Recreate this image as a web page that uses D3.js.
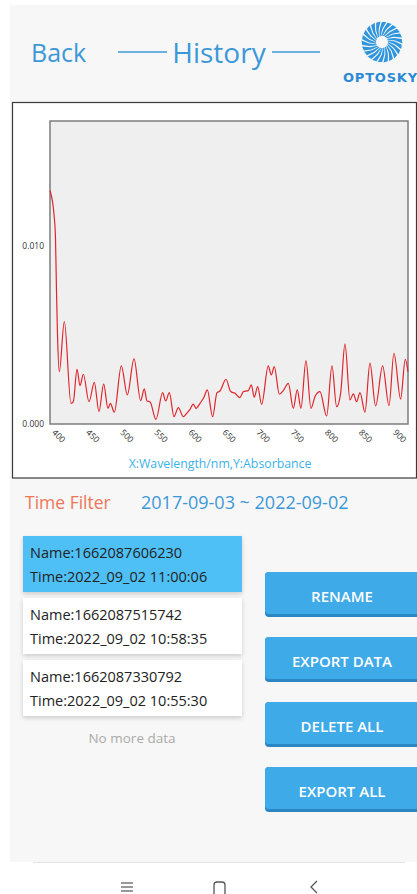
<!DOCTYPE html>
<html>
<head>
<meta charset="utf-8">
<script src="https://cdn.jsdelivr.net/npm/d3@7"></script>
<style>
    html, body { margin: 0; padding: 0; background: #fff; }
    svg { display: block; }
</style>
</head>
<body>
<svg id="page" width="417" height="894"></svg>
<script>
// spectrum
let wavelength = [400, 406, 408, 409.5, 411, 413.7, 421, 430.8, 434.2, 439.6, 444, 448.9, 457.2, 465, 471.8,
    478.7, 485, 488.5, 494.3, 504.6, 513.4, 523.2, 532.9, 538.3, 542.2, 546.6, 555.4, 565.2, 569.6, 575,
    581.8, 588.2, 595.5, 600.4, 605.3, 610.2, 614.1, 620, 625.8, 630.7, 638.5, 644.9, 649.3, 658.1, 664.9,
    671.3, 678.6, 683.5, 690.8, 695.2, 699.6, 704.5, 710.4, 720.1, 724.5, 728.9, 736.3, 742.1, 749.5, 756.8,
    762.6, 768, 775.4, 782.7, 788.6, 795.9, 805.7, 813.5, 820.3, 826.2, 832.6, 839.9, 844.8, 849.7, 854.6,
    861.9, 869.2, 877.5, 887.8, 897.1, 904.4, 914.2, 921, 925];
let absorbance = [0.0131, 0.0117, 0.0105, 0.0075, 0.0050, 0.00294, 0.00575, 0.00116, 0.00125, 0.00307, 0.00215,
    0.00279, 0.00125, 0.00234, 0.00069, 0.00225, 0.00088, 0.00116, 0.00066, 0.00326, 0.00163, 0.00365, 0.00131,
    0.00197, 0.00129, 0.00125, 0.00026, 0.00176, 0.00129, 0.00176, 0.00041, 0.00092, 0.00041, 0.0006, 0.00082,
    0.00112, 0.00088, 0.00116, 0.0015, 0.00191, 0.00041, 0.00176, 0.00185, 0.00251, 0.00182, 0.00172, 0.00148,
    0.00182, 0.00187, 0.00219, 0.0015, 0.0021, 0.0011, 0.00326, 0.00275, 0.00322, 0.00167, 0.00187, 0.00228,
    0.00088, 0.00191, 0.00088, 0.00356, 0.00088, 0.00154, 0.00182, 0.00045, 0.00326, 0.00097, 0.00172, 0.00449,
    0.00135, 0.00169, 0.00125, 0.00176, 0.00066, 0.00341, 0.00101, 0.00326, 0.00103, 0.00397, 0.0014, 0.00363,
    0.00294];
let xTicks = [400, 450, 500, 550, 600, 650, 700, 750, 800, 850, 900];
let yTicks = [0, 0.010];

let recordNames = ["1662087606230", "1662087515742", "1662087330792"];
let recordTimes = ["2022_09_02 11:00:06", "2022_09_02 10:58:35", "2022_09_02 10:55:30"];
let buttonLabels = ["RENAME", "EXPORT DATA", "DELETE ALL", "EXPORT ALL"];
let dateRange = "2017-09-03 ~ 2022-09-02";

let blue = "#3d98d8";
let font = "'Open Sans', sans-serif";

let svg = d3.select("#page");

let defs = svg.append("defs");
defs.append("filter").attr("id", "shadow")
    .attr("x", "-10%").attr("y", "-10%").attr("width", "120%").attr("height", "130%")
    .append("feDropShadow")
    .attr("dx", 0).attr("dy", 2).attr("stdDeviation", 2)
    .attr("flood-color", "#000").attr("flood-opacity", 0.18);

// app background panel
svg.append("rect").attr("x", 10).attr("y", 5).attr("width", 407).attr("height", 857).attr("fill", "#f7f7f7");

// header
svg.append("text").attr("x", 31).attr("y", 62).attr("fill", blue)
    .style("font-family", font).style("font-size", "25px").text("Back");
svg.append("text").attr("x", 219).attr("y", 63).attr("fill", blue).attr("text-anchor", "middle")
    .style("font-family", font).style("font-size", "28px").text("History");
[[118, 167], [272, 320]].forEach((p) => {
    svg.append("line").attr("x1", p[0]).attr("x2", p[1]).attr("y1", 52).attr("y2", 52)
        .attr("stroke", blue).attr("stroke-width", 1.6);
});

// logo
let logo = svg.append("g").attr("transform", "translate(382,42)");
let blades = d3.range(22);
logo.selectAll("path").data(blades).enter().append("path")
    .attr("d", (i) => {
        let t = i * Math.PI * 2 / 22;
        let pt = (r, a) => [r * Math.cos(a), r * Math.sin(a)];
        let pts = [pt(6, t), pt(13, t + 0.25), pt(20, t + 0.42), pt(20.5, t + 0.64), pt(13, t + 0.45), pt(6, t + 0.2)];
        return "M" + pts.map((p) => p.join(",")).join("L") + "Z";
    })
    .attr("fill", "#2f96dd");
svg.append("text").attr("x", 343).attr("y", 82).attr("fill", "#2a8ad6")
    .style("font-family", "'DejaVu Sans', sans-serif").style("font-weight", "bold")
    .style("font-size", "13px").style("letter-spacing", "0.8px").text("OPTOSKY");

// chart box
svg.append("rect").attr("x", 12.5).attr("y", 102.5).attr("width", 404).attr("height", 375.5)
    .attr("fill", "#fff").attr("stroke", "#3a3a3a").attr("stroke-width", 1.2);

let plot = {left: 50, top: 121, right: 408, bottom: 424};

let xScale = d3.scaleLinear().domain([400, 925]).range([plot.left, plot.right]);
let yScale = d3.scaleLinear().domain([0, 0.017]).range([plot.bottom, plot.top]);

svg.append("rect").attr("x", plot.left).attr("y", plot.top)
    .attr("width", plot.right - plot.left).attr("height", plot.bottom - plot.top)
    .attr("fill", "#efefef").attr("stroke", "#7d7d7d").attr("stroke-width", 1.5);

let yAxis = svg.append("g")
    .attr("transform", "translate(" + plot.left + ",0)")
    .call(d3.axisLeft(yScale).tickValues(yTicks).tickFormat(d3.format(".3f")).tickSize(0).tickPadding(6));
yAxis.select(".domain").remove();
yAxis.selectAll("text").attr("fill", "#333").style("font-family", font).style("font-size", "8.5px");

let xAxis = svg.append("g")
    .attr("transform", "translate(0," + plot.bottom + ")")
    .call(d3.axisBottom(xScale).tickValues(xTicks).tickSize(0));
xAxis.select(".domain").remove();
xAxis.selectAll("text")
    .attr("x", 0).attr("y", 0).attr("dy", 0)
    .attr("transform", "translate(1,9) rotate(45)")
    .style("text-anchor", "start")
    .attr("fill", "#333").style("font-family", font).style("font-size", "8.5px");

let spectrum = wavelength.map((w, i) => ({w: w, a: absorbance[i]}));
svg.append("path")
    .datum(spectrum)
    .attr("fill", "none").attr("stroke", "#e0262c").attr("stroke-width", 1.2)
    .attr("d", d3.line().x((d) => xScale(d.w)).y((d) => yScale(d.a)).curve(d3.curveMonotoneX));

svg.append("text").attr("x", 220).attr("y", 468).attr("text-anchor", "middle").attr("fill", "#3cb2e8")
    .style("font-family", font).style("font-size", "12.3px").text("X:Wavelength/nm,Y:Absorbance");

// time filter
svg.append("text").attr("x", 25).attr("y", 509).attr("fill", "#ee7656")
    .style("font-family", font).style("font-size", "17.5px").text("Time Filter");
svg.append("text").attr("x", 141).attr("y", 509).attr("fill", blue)
    .style("font-family", font).style("font-size", "18px").text(dateRange);

// record list
let cardTops = [536, 598, 660];
let cards = svg.selectAll(".card").data(recordNames).enter().append("g").attr("class", "card")
    .attr("transform", (d, i) => "translate(23," + cardTops[i] + ")");
cards.append("rect").attr("width", 219).attr("height", 56)
    .attr("fill", (d, i) => i === 0 ? "#4fc0f5" : "#fff")
    .attr("filter", "url(#shadow)");
cards.append("text").attr("x", 7).attr("y", 21.5).attr("fill", "#222")
    .style("font-family", font).style("font-size", "14.5px").text((d) => "Name:" + d);
cards.append("text").attr("x", 7).attr("y", 46).attr("fill", "#222")
    .style("font-family", font).style("font-size", "14.5px").text((d, i) => "Time:" + recordTimes[i]);

svg.append("text").attr("x", 132).attr("y", 743).attr("text-anchor", "middle").attr("fill", "#aaa")
    .style("font-family", font).style("font-size", "13.5px").text("No more data");

// buttons
let btn = svg.selectAll(".btn").data(buttonLabels).enter().append("g").attr("class", "btn")
    .attr("transform", (d, i) => "translate(265," + (572 + i * 65) + ")");
btn.append("rect").attr("width", 160).attr("height", 45).attr("rx", 4).attr("fill", "#2b86c4");
btn.append("rect").attr("width", 160).attr("height", 42).attr("rx", 4).attr("fill", "#3eaae7");
btn.append("text").attr("x", 77).attr("y", 29.5).attr("text-anchor", "middle").attr("fill", "#fff")
    .style("font-family", font).style("font-weight", 600).style("font-size", "15px").text((d) => d);

// navigation bar
svg.append("line").attr("x1", 33).attr("x2", 405).attr("y1", 862.5).attr("y2", 862.5)
    .attr("stroke", "#e4e4e4").attr("stroke-width", 1);
[883, 887, 891].forEach((y) => {
    svg.append("line").attr("x1", 121).attr("x2", 133).attr("y1", y).attr("y2", y)
        .attr("stroke", "#555").attr("stroke-width", 1.2);
});
svg.append("rect").attr("x", 214).attr("y", 882).attr("width", 11).attr("height", 14).attr("rx", 3)
    .attr("fill", "none").attr("stroke", "#555").attr("stroke-width", 1.3);
svg.append("path").attr("d", "M317,881L311,887L317,893").attr("fill", "none")
    .attr("stroke", "#555").attr("stroke-width", 1.3);
</script>
</body>
</html>
